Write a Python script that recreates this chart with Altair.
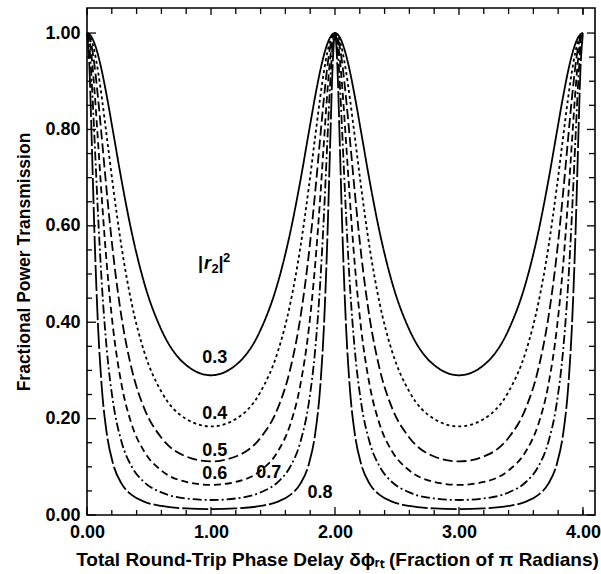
import altair as alt
import pandas as pd

# Phase delay (fraction of pi)
X = [0.00, 0.02, 0.04, 0.06, 0.09, 0.12, 0.16, 0.21, 0.28, 0.36, 0.46, 0.60, 0.80, 1.00,
     1.20, 1.40, 1.54, 1.64, 1.72, 1.79, 1.84, 1.88, 1.91, 1.94, 1.96, 1.98, 2.00,
     2.02, 2.04, 2.06, 2.09, 2.12, 2.16, 2.21, 2.28, 2.36, 2.46, 2.60, 2.80, 3.00,
     3.20, 3.40, 3.54, 3.64, 3.72, 3.79, 3.84, 3.88, 3.91, 3.94, 3.96, 3.98, 4.00]

T03 = [1.0, 0.9976, 0.9904, 0.9788, 0.9536, 0.9208, 0.8685, 0.7956, 0.6925, 0.5872, 0.4828, 0.3842, 0.3110, 0.2899,
       0.3110, 0.3842, 0.4828, 0.5872, 0.6925, 0.7956, 0.8685, 0.9208, 0.9536, 0.9788, 0.9904, 0.9976, 1.0,
       0.9976, 0.9904, 0.9788, 0.9536, 0.9208, 0.8685, 0.7956, 0.6925, 0.5872, 0.4828, 0.3842, 0.3110, 0.2899,
       0.3110, 0.3842, 0.4828, 0.5872, 0.6925, 0.7956, 0.8685, 0.9208, 0.9536, 0.9788, 0.9904, 0.9976, 1.0]

T04 = [1.0, 0.9956, 0.9828, 0.9621, 0.9189, 0.8650, 0.7844, 0.6820, 0.5538, 0.4394, 0.3397, 0.2558, 0.1992, 0.1837,
       0.1992, 0.2558, 0.3397, 0.4394, 0.5538, 0.6820, 0.7844, 0.8650, 0.9189, 0.9621, 0.9828, 0.9956, 1.0,
       0.9956, 0.9828, 0.9621, 0.9189, 0.8650, 0.7844, 0.6820, 0.5538, 0.4394, 0.3397, 0.2558, 0.1992, 0.1837,
       0.1992, 0.2558, 0.3397, 0.4394, 0.5538, 0.6820, 0.7844, 0.8650, 0.9189, 0.9621, 0.9828, 0.9956, 1.0]

T05 = [1.0, 0.9922, 0.9694, 0.9338, 0.8629, 0.7807, 0.6690, 0.5437, 0.4081, 0.3033, 0.2223, 0.1604, 0.1214, 0.1111,
       0.1214, 0.1604, 0.2223, 0.3033, 0.4081, 0.5437, 0.6690, 0.7807, 0.8629, 0.9338, 0.9694, 0.9922, 1.0,
       0.9922, 0.9694, 0.9338, 0.8629, 0.7807, 0.6690, 0.5437, 0.4081, 0.3033, 0.2223, 0.1604, 0.1214, 0.1111,
       0.1214, 0.1604, 0.2223, 0.3033, 0.4081, 0.5437, 0.6690, 0.7807, 0.8629, 0.9338, 0.9694, 0.9922, 1.0]

T06 = [1.0, 0.9854, 0.9442, 0.8827, 0.7705, 0.6550, 0.5188, 0.3885, 0.2689, 0.1884, 0.1323, 0.0924, 0.0686, 0.0625,
       0.0686, 0.0924, 0.1323, 0.1884, 0.2689, 0.3885, 0.5188, 0.6550, 0.7705, 0.8827, 0.9442, 0.9854, 1.0,
       0.9854, 0.9442, 0.8827, 0.7705, 0.6550, 0.5188, 0.3885, 0.2689, 0.1884, 0.1323, 0.0924, 0.0686, 0.0625,
       0.0686, 0.0924, 0.1323, 0.1884, 0.2689, 0.3885, 0.5188, 0.6550, 0.7705, 0.8827, 0.9442, 0.9854, 1.0]

T07 = [1.0, 0.9702, 0.8907, 0.7840, 0.6182, 0.4779, 0.3420, 0.2345, 0.1506, 0.1007, 0.0685, 0.0468, 0.0343, 0.0311,
       0.0343, 0.0468, 0.0685, 0.1007, 0.1506, 0.2345, 0.3420, 0.4779, 0.6182, 0.7840, 0.8907, 0.9702, 1.0,
       0.9702, 0.8907, 0.7840, 0.6182, 0.4779, 0.3420, 0.2345, 0.1506, 0.1007, 0.0685, 0.0468, 0.0343, 0.0311,
       0.0343, 0.0468, 0.0685, 0.1007, 0.1506, 0.2345, 0.3420, 0.4779, 0.6182, 0.7840, 0.8907, 0.9702, 1.0]

T08 = [1.0, 0.9268, 0.7602, 0.5853, 0.3864, 0.2625, 0.1681, 0.1065, 0.0645, 0.0417, 0.0278, 0.0187, 0.0136, 0.0123,
       0.0136, 0.0187, 0.0278, 0.0417, 0.0645, 0.1065, 0.1681, 0.2625, 0.3864, 0.5853, 0.7602, 0.9268, 1.0,
       0.9268, 0.7602, 0.5853, 0.3864, 0.2625, 0.1681, 0.1065, 0.0645, 0.0417, 0.0278, 0.0187, 0.0136, 0.0123,
       0.0136, 0.0187, 0.0278, 0.0417, 0.0645, 0.1065, 0.1681, 0.2625, 0.3864, 0.5853, 0.7602, 0.9268, 1.0]

SERIES = ["0.3", "0.4", "0.5", "0.6", "0.7", "0.8"]
VALUES = [T03, T04, T05, T06, T07, T08]

# curve labels
LABEL_TEXT = ["0.3", "0.4", "0.5", "0.6", "0.7", "0.8"]
LABEL_X = [1.03, 1.03, 1.03, 1.03, 1.465, 1.88]
LABEL_Y = [0.326, 0.21, 0.133, 0.085, 0.087, 0.046]
# |r2|^2 legend label anchor
R2_X = [1.0]
R2_Y = [0.52]

# tick positions
X_MAJOR = [0, 1, 2, 3, 4]
X_MINOR = [0.2, 0.4, 0.6, 0.8, 1.2, 1.4, 1.6, 1.8, 2.2, 2.4, 2.6, 2.8, 3.2, 3.4, 3.6, 3.8, 4.0]
Y_MAJOR = [0.0, 0.2, 0.4, 0.6, 0.8, 1.0]
Y_MINOR = [0.05, 0.1, 0.15, 0.25, 0.3, 0.35, 0.45, 0.5, 0.55, 0.65, 0.7, 0.75, 0.85, 0.9, 0.95]

rows = []
for name, vals in zip(SERIES, VALUES):
    for x, t in zip(X, vals):
        rows.append({"x": x, "t": t, "r": name})
df = pd.DataFrame(rows)

labels = pd.DataFrame({"x": LABEL_X, "t": LABEL_Y, "text": LABEL_TEXT})
r2 = pd.DataFrame({"x": R2_X, "t": R2_Y})

W, H = 508, 507
FONT = "Liberation Sans"
xs = alt.Scale(domain=[0, 4.097], nice=False, zero=False)
ys = alt.Scale(domain=[0, 1.052], nice=False)

XT = "Total Round-Trip Phase Delay \u03b4\u03d5\u1d63\u209c (Fraction of \u03c0 Radians)"
YT = "Fractional Power Transmission"

AX = alt.Axis(values=X_MAJOR, format=".2f", ticks=False, domain=False, grid=False,
              labelFont=FONT, labelFontSize=18, labelFontWeight="bold", labelColor="black",
              labelPadding=8, labelFlush=False, labelOverlap=False,
              title=XT, titleFont=FONT, titleFontSize=19, titleFontWeight="bold", titleColor="black",
              titleY=50, titleX=250, titleBaseline="alphabetic")
AY = alt.Axis(values=Y_MAJOR, format=".2f", ticks=False, domain=False, grid=False,
              labelFont=FONT, labelFontSize=18, labelFontWeight="bold", labelColor="black",
              labelPadding=7, labelFlush=False, labelOverlap=False,
              title=YT, titleFont=FONT, titleFontSize=17.5, titleFontWeight="bold", titleColor="black",
              titleX=-58, titleBaseline="alphabetic")

def X_(field):
    return alt.X(field, scale=xs, axis=AX, title=XT)

def Y_(field):
    return alt.Y(field, scale=ys, axis=AY, title=YT)

dash_scale = alt.Scale(
    domain=SERIES,
    range=[[1, 0], [3, 3], [10, 4], [7, 4], [9, 3, 2, 3], [26, 3]],
)

lines = alt.Chart(df).mark_line(color="black", strokeWidth=1.8, interpolate="monotone").encode(
    x=X_("x:Q"),
    y=Y_("t:Q"),
    strokeDash=alt.StrokeDash("r:N", scale=dash_scale, legend=None),
    detail="r:N",
)

text = alt.Chart(labels).mark_text(font=FONT, fontSize=18, fontWeight="bold", color="black",
                                   align="center", baseline="middle").encode(
    x=X_("x:Q"), y=Y_("t:Q"), text="text:N",
)

def r2piece(s, size, dx, dy, align, italic=False):
    return alt.Chart(r2).mark_text(text=s, font=FONT, fontSize=size, fontWeight="bold",
                                   fontStyle="italic" if italic else "normal", color="black",
                                   align=align, baseline="middle", dx=dx, dy=dy).encode(
        x=X_("x:Q"), y=Y_("t:Q"))

r2_layers = [
    r2piece("|", 18, -8, 0, "right"),
    r2piece("r", 18, 0, 0, "right", italic=True),
    r2piece("2", 13, 0.5, 5, "left"),
    r2piece("|", 18, 7.5, 0, "left"),
    r2piece("2", 13, 12, -6, "left"),
]

def xticks(vals, length, top):
    d = pd.DataFrame({"x": vals})
    y0, y1 = (0, length) if top else (H, H - length)
    return alt.Chart(d).mark_rule(color="black", strokeWidth=1.3).encode(
        x=X_("x:Q"), y=alt.value(y0), y2=alt.value(y1))

def yticks(vals, length, right):
    d = pd.DataFrame({"t": vals})
    x0, x1 = (W, W - length) if right else (0, length)
    return alt.Chart(d).mark_rule(color="black", strokeWidth=1.3).encode(
        y=Y_("t:Q"), x=alt.value(x0), x2=alt.value(x1))

chart = alt.layer(
    lines, text, *r2_layers,
    xticks(X_MAJOR, 8, False), xticks(X_MINOR, 5, False),
    xticks(X_MAJOR, 7, True), xticks(X_MINOR, 6, True),
    yticks(Y_MAJOR, 9, False), yticks(Y_MINOR, 5, False),
    yticks(Y_MAJOR, 8, True), yticks(Y_MINOR, 6, True),
).properties(
    width=W, height=H,
    autosize=alt.AutoSizeParams(type="none"),
    padding={"left": 87, "top": 8, "right": 6, "bottom": 59},
    background="white",
).configure_view(stroke="black", strokeWidth=1.6)

chart.save("out.html", embed_options={"renderer": "svg", "actions": False})
